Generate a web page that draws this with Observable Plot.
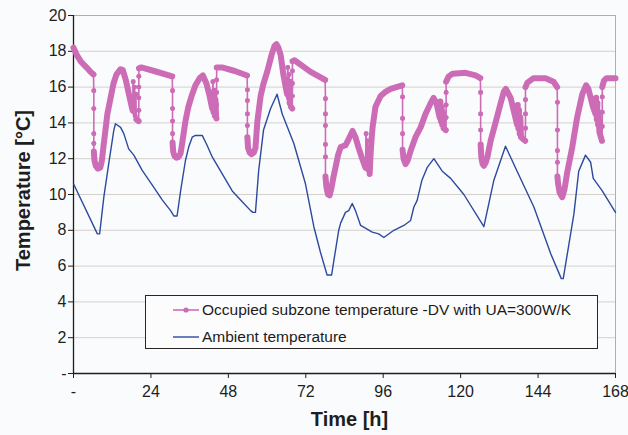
<!DOCTYPE html>
<html>
<head>
<meta charset="utf-8">
<script src="https://cdn.jsdelivr.net/npm/d3@7"></script>
<script src="https://cdn.jsdelivr.net/npm/@observablehq/plot@0.6"></script>
<style>
  html, body { margin: 0; padding: 0; background: #fafbfd; }
  #wrap { position: relative; width: 628px; height: 435px; font-family: "Liberation Sans", Arial, sans-serif; }
  #legend { position: absolute; left: 145px; top: 295px; width: 451px; height: 52px; border: 1px solid #2a2522; background: #fcfcfd; }
  .row { position: absolute; left: 0; height: 20px; display: flex; align-items: center; font-size: 15.5px; color: #1c1c1c; white-space: nowrap; }
  .row svg { margin-left: 27px; margin-right: 3px; }
</style>
</head>
<body>
<div id="wrap"></div>
<script>
// ---- data ----
const xTicks = [0, 24, 48, 72, 96, 120, 144, 168];
const yTicks = [0, 2, 4, 6, 8, 10, 12, 14, 16, 18, 20];

const seriesNames = ["Occupied subzone temperature -DV with UA=300W/K", "Ambient temperature"];

const ambHours = [0, 7.4, 8.1, 9.4, 10.9, 12.5, 13.0, 14.6, 15.6, 17.1, 18.7, 21.3, 24.9, 27.5, 30.1, 31.1, 32.1,
  33.2, 34.7, 35.7, 36.8, 37.8, 39.9, 41.4, 43.0, 46.1, 49.2, 52.3, 54.9, 55.6, 56.4,
  57.4, 58.9, 61.1, 63.1, 64.7, 68.3, 71.9, 74.5, 76.5, 78.6, 80.0,
  80.7, 82.2, 82.8, 84.3, 85.3, 86.4, 87.4, 89.0, 92.6, 94.6, 96.2, 99.3, 102.4, 104.5, 105.5, 106.5,
  108.0, 109.6, 111.7, 114.3, 116.9, 121.0, 127.2, 130.3, 133.9, 137.5, 142.7, 147.9, 151.2, 151.8,
  155.1, 156.6, 158.7, 160.3, 161.1, 163.9, 168.0];
const ambTemps = [10.6, 7.8, 7.8, 9.85, 11.7, 13.6, 13.95, 13.75, 13.4, 12.55, 12.2, 11.35, 10.4, 9.7, 9.1, 8.8, 8.8,
  10.2, 11.9, 12.65, 13.2, 13.3, 13.3, 12.75, 12.1, 11.15, 10.2, 9.6, 9.1, 9.0, 9.0,
  11.35, 13.6, 14.8, 15.6, 14.5, 12.85, 10.6, 8.2, 6.8, 5.5, 5.5,
  6.3, 8.0, 8.4, 9.0, 9.1, 9.5, 9.1, 8.27, 7.9, 7.8, 7.6, 8.0, 8.27, 8.55, 9.3, 9.66,
  10.8, 11.5, 12.0, 11.3, 10.9, 10.0, 8.2, 10.8, 12.7, 11.3, 9.3, 6.7, 5.3, 5.3,
  8.9, 11.3, 12.2, 11.8, 10.9, 10.2, 9.0];

const occHours = [
  // day 1
  0, 1, 2.2, 3.2, 4.3, 5.3, 6.2,
  6.3, 6.3, 6.3, 6.3, 6.3,
  6.5, 6.9, 7.5, 8.3, 8.8, 9.3, 9.9, 10.5, 11.5, 12.4, 13.3, 14.6, 15.3, 16.2, 17.3, 18.3,
  18.5, 18.7, 18.9, 19.1, 19.3, 19.5, 20.2,
  20.25, 20.25, 20.25, 20.25, 20.3, 21.0, 25.0, 30.6,
  // day 2
  30.7, 30.7, 30.7, 30.7, 30.7,
  30.9, 31.3, 31.9, 32.6, 33.2, 33.8, 34.7, 35.6, 36.6, 37.8, 39.1, 40.1, 41.2, 42.2, 43.0,
  43.2, 43.4, 43.6, 43.8, 44.0, 44.2, 44.3,
  44.35, 44.35, 44.35, 44.4, 46.0, 50.0, 53.8,
  // day 3
  53.9, 53.9, 53.9, 53.9, 53.9,
  54.1, 54.6, 55.2, 55.9, 56.4, 57.0, 58.0, 58.9, 60.1, 61.4, 62.3, 62.9, 63.5, 64.2, 65.1, 66.2,
  66.4, 66.6, 66.8, 67.0, 67.2, 67.4, 67.8,
  67.85, 67.85, 67.85, 67.9, 68.5, 73.5, 78.0,
  // day 4
  78.1, 78.1, 78.1, 78.1, 78.1, 78.1,
  78.4, 78.9, 79.4, 80.0, 80.6, 81.2, 82.0, 82.8, 84.3, 85.3, 86.5, 87.4, 88.3, 89.3, 90.5,
  90.7, 90.9, 91.1, 91.3, 91.5, 91.8,
  92.1, 92.4, 92.7, 93.6, 95.2, 96.8, 98.3, 101.9,
  // day 5
  102.0, 102.0, 102.0, 102.0,
  102.3, 102.9, 103.6, 104.5, 106.0, 107.6, 109.1, 110.7, 111.6, 112.5, 113.5,
  113.7, 113.9, 114.1, 114.3, 114.5, 114.7, 115.4,
  115.5, 115.5, 115.5, 115.5, 116.3, 117.5, 121.5, 124.6, 126.1,
  // day 6
  126.2, 126.2, 126.2, 126.2,
  126.4, 126.8, 127.2, 127.8, 128.3, 129.3, 130.8, 132.4, 133.4, 134.0, 135.5, 136.7, 137.5,
  137.7, 137.9, 138.1, 138.3, 138.5, 138.7, 140.0,
  140.1, 140.1, 140.1, 140.1, 140.7, 142.6, 146.3, 148.8, 149.9,
  // day 7
  150.0, 150.0, 150.0, 150.0, 150.0,
  150.2, 150.7, 151.5, 152.2, 153.0, 154.6, 156.1, 157.7, 158.9, 159.6, 160.3, 161.0, 161.8,
  162.0, 162.2, 162.4, 162.6, 162.8, 163.0, 163.8,
  163.9, 163.9, 163.9, 163.9, 164.4, 165.2, 168.0
];
const occTemps = [
  // day 1
  18.2, 17.8, 17.45, 17.25, 17.05, 16.85, 16.7,
  15.8, 14.8, 13.4, 12.85, 12.4,
  11.9, 11.6, 11.45, 11.5, 11.9, 12.7, 13.6, 14.5, 15.4, 16.2, 16.7, 17.0, 16.95, 16.4, 15.5, 14.7,
  16.3, 14.6, 16.0, 14.4, 15.6, 14.2, 14.1,
  14.7, 15.4, 16.0, 16.6, 17.05, 17.1, 16.9, 16.6,
  // day 2
  15.8, 14.8, 14.1, 13.4, 12.9,
  12.4, 12.15, 12.05, 12.1, 12.3, 13.0, 14.1, 14.9, 15.5, 16.1, 16.5, 16.65, 16.2, 15.5, 14.8,
  16.3, 14.6, 15.8, 14.4, 15.3, 14.3, 14.25,
  15.0, 15.7, 16.4, 17.1, 17.1, 16.9, 16.65,
  // day 3
  15.85, 15.25, 14.5, 13.85, 13.2,
  12.6, 12.35, 12.25, 12.35, 12.6, 14.1, 15.5, 16.2, 16.9, 17.8, 18.3, 18.4, 18.2, 17.8, 16.65, 15.6,
  17.1, 15.4, 16.7, 15.1, 16.3, 14.9, 14.8,
  15.5, 16.2, 16.9, 17.45, 17.5, 16.85, 16.4,
  // day 4
  15.35, 14.5, 13.85, 12.8, 12.1, 11.0,
  10.4, 10.0, 9.95, 10.4, 11.0, 11.5, 12.2, 12.65, 12.75, 13.1, 13.55, 13.2, 12.65, 12.1, 11.5,
  13.4, 11.6, 13.0, 11.4, 12.6, 11.15,
  12.3, 13.1, 13.75, 14.9, 15.5, 15.75, 15.9, 16.1,
  // day 5
  15.45, 14.25, 13.4, 12.5,
  12.0, 11.7, 11.9, 12.45, 13.2, 13.75, 14.5, 15.1, 15.4, 15.1, 14.3,
  15.2, 14.1, 14.9, 13.9, 14.6, 13.7, 13.6,
  14.3, 15.0, 15.7, 16.3, 16.6, 16.75, 16.8, 16.65, 16.5,
  // day 6
  15.7, 14.5, 13.6, 12.8,
  12.1, 11.7, 11.6, 11.8, 12.1, 13.0, 14.0, 15.1, 15.75, 15.9, 15.4, 14.5, 13.9,
  15.0, 13.7, 14.7, 13.4, 14.3, 13.2, 13.0,
  13.7, 14.5, 15.3, 16.0, 16.25, 16.5, 16.5, 16.3, 16.0,
  // day 7
  15.15, 13.6, 12.45, 11.8, 11.0,
  10.6, 10.1, 9.85, 10.3, 11.2, 12.65, 14.3, 15.6, 16.1, 15.9, 15.4, 14.9, 14.5,
  15.4, 14.2, 15.1, 13.9, 14.6, 13.5, 13.0,
  13.8, 14.6, 15.45, 16.0, 16.35, 16.5, 16.5
];

// ---- styling ----
const pink = "#cd6cb6";
const blue = "#2c4a9e";

const amb = ambHours.map((h, i) => ({h, t: ambTemps[i]}));
const occ = occHours.map((h, i) => ({h, t: occTemps[i]}));

// split the occupied series: slow parts (dense markers -> thick band), fast parts (thin line + spaced markers)
const band = [], thin = [], dots = [];
let bandId = 0, inBand = false;
for (let i = 1; i < occ.length; i++) {
  const a = occ[i - 1], b = occ[i];
  const steep = Math.abs(b.t - a.t) > 6 * Math.max(b.h - a.h, 0);
  if (steep) {
    thin.push({...a, id: i}, {...b, id: i});
    dots.push(a, b);
    inBand = false;
  } else {
    if (!inBand) { bandId++; band.push({...a, id: bandId}); inBand = true; }
    band.push({...b, id: bandId});
  }
}

const fmt = d => d === 0 ? "-" : String(d);

const chart = Plot.plot({
  width: 628,
  height: 435,
  marginLeft: 73,
  marginRight: 13,
  marginTop: 15,
  marginBottom: 62,
  style: {background: "transparent", fontFamily: "'Liberation Sans', Arial, sans-serif", fontSize: "16px", color: "#1e1e1e"},
  x: {domain: [0, 168]},
  y: {domain: [0, 20]},
  marks: [
    Plot.ruleY(yTicks.filter(d => d > 0 && d < 20), {stroke: "#d5d1ca", strokeWidth: 1}),
    Plot.ruleY([20], {stroke: "#b3ada6", strokeWidth: 1}),
    Plot.ruleX([168], {stroke: "#b3ada6", strokeWidth: 1}),
    Plot.axisY({ticks: yTicks, tickFormat: fmt, tickSize: 5, tickPadding: 2, label: null}),
    Plot.axisX({ticks: xTicks, tickFormat: fmt, tickSize: 5, tickPadding: 7, label: null}),
    Plot.ruleX([0], {stroke: "#1e1e1e", strokeWidth: 1.3}),
    Plot.ruleY([0], {stroke: "#1e1e1e", strokeWidth: 1.3}),
    Plot.line(amb, {x: "h", y: "t", stroke: blue, strokeWidth: 1.4, curve: "linear"}),
    Plot.line(thin, {x: "h", y: "t", z: "id", stroke: pink, strokeWidth: 1.6}),
    Plot.dot(dots, {x: "h", y: "t", r: 2.4, fill: pink, stroke: "none"}),
    Plot.line(band, {x: "h", y: "t", z: "id", stroke: pink, strokeWidth: 6, strokeLinejoin: "round", strokeLinecap: "round"}),
    Plot.text(["Temperature [°C]"], {frameAnchor: "left", textAnchor: "middle", lineAnchor: "middle", rotate: -90, dx: -50, dy: -4, fontWeight: "bold", fontSize: 20, fill: "#1e1e1e"}),
    Plot.text(["Time [h]"], {frameAnchor: "bottom", textAnchor: "middle", lineAnchor: "middle", dx: 5, dy: 46, fontWeight: "bold", fontSize: 20, fill: "#1e1e1e"})
  ]
});

const wrap = document.getElementById("wrap");
wrap.appendChild(chart);

// legend (inside the plot area, as in the reference)
const legend = document.createElement("div");
legend.id = "legend";
legend.innerHTML = `
  <div class="row" style="top:4px">
    <svg width="26" height="10"><line x1="0" y1="5" x2="26" y2="5" stroke="${pink}" stroke-width="1.6"/><circle cx="13" cy="5" r="2.6" fill="${pink}"/></svg>${seriesNames[0]}
  </div>
  <div class="row" style="top:31px">
    <svg width="26" height="10"><line x1="0" y1="5" x2="26" y2="5" stroke="${blue}" stroke-width="1.4"/></svg>${seriesNames[1]}
  </div>`;
wrap.appendChild(legend);
</script>
</body>
</html>
